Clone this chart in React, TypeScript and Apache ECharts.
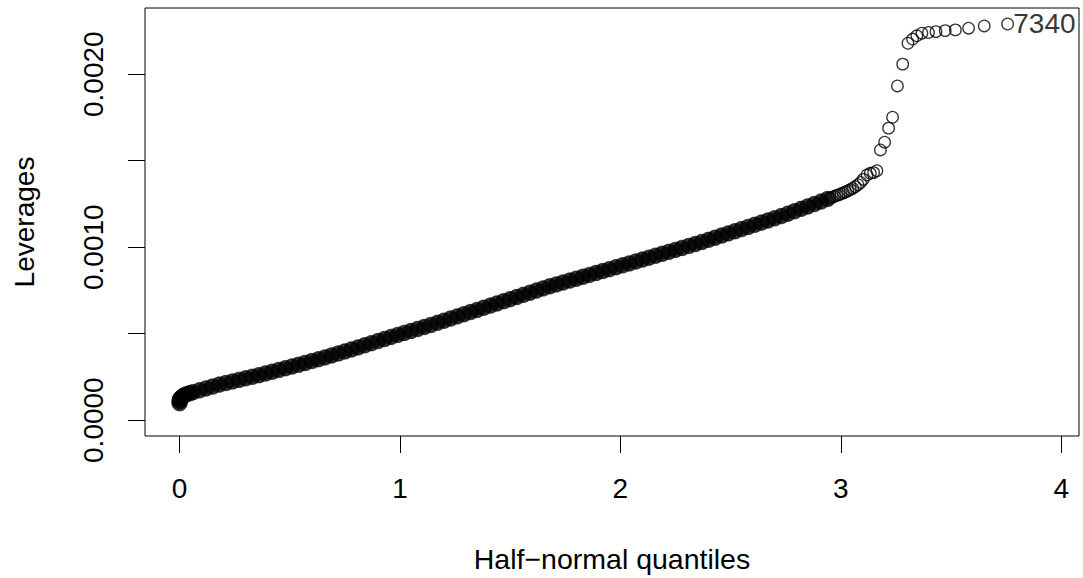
import React, { useEffect, useRef } from "react";
import * as echarts from "echarts";

// Dense part of the half-normal plot (points overlap into a solid band)
const bandQuantiles = [
  0.0, 0.0, 0.002, 0.005, 0.012, 0.02, 0.03, 0.045, 0.06, 0.09, 0.12, 0.15, 0.18, 0.21, 0.24, 0.27,
  0.3, 0.33, 0.36, 0.39, 0.42, 0.45, 0.48, 0.51, 0.54, 0.57, 0.6, 0.63, 0.66, 0.69, 0.72, 0.75,
  0.78, 0.81, 0.84, 0.87, 0.9, 0.93, 0.96, 0.99, 1.02, 1.05, 1.08, 1.11, 1.14, 1.17, 1.2, 1.23,
  1.26, 1.29, 1.32, 1.35, 1.38, 1.41, 1.44, 1.47, 1.5, 1.53, 1.56, 1.59, 1.62, 1.65, 1.68, 1.71,
  1.74, 1.77, 1.8, 1.83, 1.86, 1.89, 1.92, 1.95, 1.98, 2.01, 2.04, 2.07, 2.1, 2.13, 2.16, 2.19,
  2.22, 2.25, 2.28, 2.31, 2.34, 2.37, 2.4, 2.43, 2.46, 2.49, 2.52, 2.55, 2.58, 2.61, 2.64, 2.67,
  2.7, 2.73, 2.76, 2.79, 2.82, 2.85, 2.88, 2.91, 2.94,
];
const bandLeverages = [
  0.000098, 0.00011, 0.00012, 0.000127, 0.000136, 0.000143, 0.000149, 0.000155, 0.0001612,
  0.0001722, 0.0001833, 0.0001943, 0.0002054, 0.0002145, 0.0002236, 0.0002327, 0.0002418,
  0.0002509, 0.00026, 0.0002699, 0.00028, 0.00029, 0.0003001, 0.0003101, 0.0003202, 0.0003308,
  0.0003415, 0.0003521, 0.0003628, 0.0003742, 0.0003857, 0.0003973, 0.0004089, 0.0004205,
  0.0004326, 0.0004448, 0.000457, 0.0004691, 0.0004813, 0.0004929, 0.0005043, 0.0005156,
  0.000527, 0.0005384, 0.0005501, 0.0005625, 0.000575, 0.0005874, 0.0005999, 0.0006123,
  0.0006248, 0.0006372, 0.0006497, 0.0006621, 0.0006746, 0.000687, 0.0006995, 0.0007119,
  0.0007244, 0.0007368, 0.0007493, 0.0007617, 0.0007738, 0.0007848, 0.0007958, 0.0008068,
  0.0008178, 0.0008288, 0.0008398, 0.0008508, 0.0008618, 0.0008728, 0.0008839, 0.0008949,
  0.0009059, 0.0009171, 0.0009282, 0.0009394, 0.0009506, 0.0009617, 0.000973, 0.0009842,
  0.0009955, 0.0010068, 0.0010181, 0.0010299, 0.0010423, 0.0010548, 0.0010672, 0.0010797,
  0.0010921, 0.0011046, 0.001117, 0.0011295, 0.0011419, 0.0011544, 0.0011668, 0.0011797,
  0.0011936, 0.0012075, 0.0012214, 0.0012353, 0.0012492, 0.0012633, 0.0012781,
];

// Transition: circles still overlapping but individually visible
const midQuantiles = [
  2.952, 2.962, 2.972, 2.982, 2.992, 3.002, 3.012, 3.022, 3.032, 3.043, 3.054, 3.066, 3.078,
  3.09, 3.102,
];
const midLeverages = [
  0.001284, 0.001289, 0.0012939, 0.0012988, 0.0013037, 0.0013087, 0.001314, 0.0013195,
  0.0013255, 0.0013325, 0.00134, 0.00135, 0.001361, 0.001374, 0.001392,
];

// Upper tail: separated circles
const tailQuantiles = [
  3.119, 3.134, 3.149, 3.164, 3.18, 3.199, 3.217, 3.235, 3.257, 3.281, 3.305, 3.326, 3.345,
  3.368, 3.398, 3.432, 3.474, 3.52, 3.58, 3.651, 3.757,
];
const tailLeverages = [
  0.001417, 0.001427, 0.001431, 0.001442, 0.001562, 0.001607, 0.001688, 0.001751, 0.001932,
  0.002058, 0.002179, 0.002203, 0.002222, 0.002237, 0.002241, 0.002246, 0.002252, 0.002256,
  0.002266, 0.002279, 0.00229,
];

// Largest point is drawn as its label
const labelledQuantile = 3.924;
const labelledLeverage = 0.002291;
const labelledName = "7340";

const xTicks = [0, 1, 2, 3, 4];
const yTicks = [0, 0.0005, 0.001, 0.0015, 0.002];
const yLabels = [0, 0.001, 0.002];

const zip = (a: number[], b: number[]) => a.map((v, i) => [v, b[i]]);

const FONT = "'Liberation Sans', Arial, Helvetica, sans-serif";

export default function App() {
  const ref = useRef<HTMLDivElement>(null);
  useEffect(() => {
    document.body.style.margin = "0";
    if (!ref.current) return;
    const chart = echarts.init(ref.current, null, { renderer: "svg" });
    const xMax = labelledQuantile;
    const yMax = labelledLeverage;
    chart.setOption({
      animation: false,
      backgroundColor: "#fff",
      grid: {
        left: 145,
        top: 8,
        right: 4,
        bottom: 142,
        show: true,
        borderColor: "#000",
        borderWidth: 1,
        backgroundColor: "transparent",
      },
      xAxis: {
        type: "value",
        min: -0.04 * xMax,
        max: 1.04 * xMax,
        name: "Half\u2212normal quantiles",
        nameLocation: "middle",
        nameGap: 108,
        nameTextStyle: { fontSize: 28.5, color: "#000", fontFamily: FONT },
        axisLine: { show: false, onZero: false },
        splitLine: { show: false },
        axisTick: {
          show: true,
          customValues: xTicks,
          length: 17,
          lineStyle: { color: "#000", width: 1 },
        },
        axisLabel: {
          customValues: xTicks,
          fontSize: 28,
          color: "#000",
          fontFamily: FONT,
          margin: 38,
        },
      },
      yAxis: {
        type: "value",
        min: -0.04 * yMax,
        max: 1.04 * yMax,
        name: "Leverages",
        nameLocation: "middle",
        nameRotate: 90,
        nameGap: 107,
        nameTextStyle: { fontSize: 28, color: "#000", fontFamily: FONT },
        axisLine: { show: false, onZero: false },
        splitLine: { show: false },
        axisTick: {
          show: true,
          customValues: yTicks,
          length: 17,
          lineStyle: { color: "#000", width: 1 },
        },
        axisLabel: {
          customValues: yLabels,
          rotate: 90,
          fontSize: 28,
          color: "#000",
          fontFamily: FONT,
          margin: 38,
          formatter: (v: number) => v.toFixed(4),
        },
      },
      series: [
        {
          type: "scatter",
          data: zip(bandQuantiles, bandLeverages),
          symbol: "circle",
          symbolSize: 15.5,
          itemStyle: { color: "#000", borderColor: "#000", borderWidth: 0.8 },
          silent: true,
        },
        {
          type: "scatter",
          data: zip(midQuantiles, midLeverages),
          symbol: "circle",
          symbolSize: 11.5,
          itemStyle: { color: "rgba(0,0,0,0)", borderColor: "#000", borderWidth: 1.3 },
          silent: true,
        },
        {
          type: "scatter",
          data: [
            ...zip(tailQuantiles, tailLeverages),
            {
              value: [labelledQuantile, labelledLeverage],
              symbolSize: 0,
              label: {
                show: true,
                position: "inside",
                formatter: labelledName,
                fontSize: 28,
                color: "#000",
                fontFamily: FONT,
              },
            },
          ],
          symbol: "circle",
          symbolSize: 11.5,
          itemStyle: { color: "rgba(0,0,0,0)", borderColor: "#000", borderWidth: 1.3 },
          silent: true,
        },
      ],
    });
    return () => chart.dispose();
  }, []);
  return <div ref={ref} style={{ width: 1083, height: 578 }} />;
}
